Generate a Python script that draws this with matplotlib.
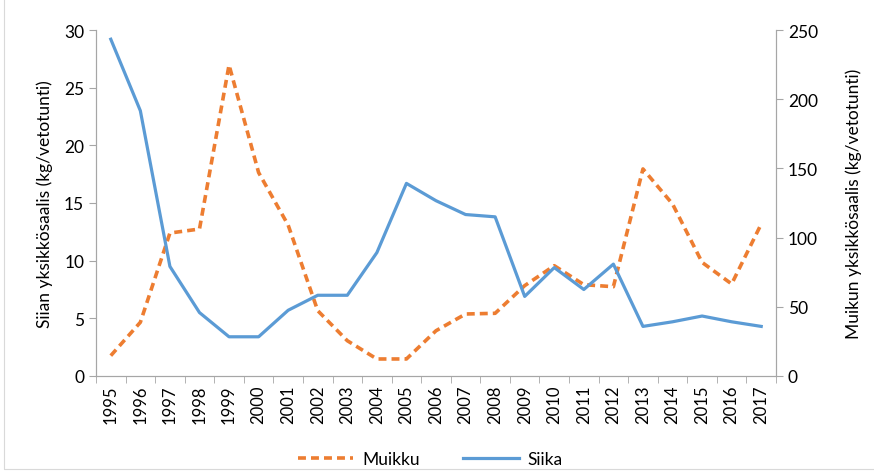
import matplotlib.pyplot as plt
from matplotlib.lines import Line2D
from matplotlib.patches import Rectangle
import numpy as np

years = list(range(1995, 2018))
siika = [29.2, 23.0, 9.5, 5.5, 3.4, 3.4, 5.7, 7.0, 7.0, 10.7, 16.7, 15.2, 14.0,
         13.8, 6.9, 9.4, 7.5, 9.7, 4.3, 4.7, 5.2, 4.7, 4.3]
muikku = [14.7, 38.8, 103.3, 106.2, 224.7, 147.0, 109.0, 47.2, 25.5, 12.3, 12.3,
          32.7, 44.8, 45.3, 65.3, 79.7, 66.0, 64.5, 149.6, 124.3, 82.1, 66.5, 109.8]

plt.rcParams['font.family'] = ['Lato', 'DejaVu Sans']
blue = '#5B9BD5'
orange = '#ED7D31'
grey = '#A6A6A6'

fig = plt.figure(figsize=(8.74, 4.77), dpi=100)
ax = fig.add_axes([96/874, 100/477, 680/874, 346/477])
ax2 = ax.twinx()

x = np.arange(len(years))
ax2.plot(x, muikku, color=orange, lw=2.6, dashes=(2.2, 1.4), zorder=2)
ax.plot(x, siika, color=blue, lw=2.3, zorder=3)
ax.set_zorder(ax2.get_zorder() + 1)
ax.patch.set_visible(False)

ax.set_xlim(-0.5, len(years) - 0.5)
ax.set_ylim(0, 30)
ax2.set_ylim(0, 250)
ax.set_yticks(np.arange(0, 31, 5))
ax2.set_yticks(np.arange(0, 251, 50))
ax.set_xticks(x)
ax.set_xticklabels([str(y) for y in years], rotation=90)
ax.set_xticks(np.arange(-0.5, len(years), 1), minor=True)
ax.tick_params(axis='x', which='major', length=0, pad=6)
ax.tick_params(axis='x', which='minor', length=5, color=grey)

for a in (ax, ax2):
    a.spines['top'].set_visible(False)
    for s in ('left', 'right', 'bottom'):
        a.spines[s].set_color(grey)
    a.tick_params(axis='y', length=5, color=grey, labelsize=12.5, labelcolor='black')
ax.tick_params(axis='x', labelsize=12, labelcolor='black')

ax.set_ylabel('Siian yksikkösaalis (kg/vetotunti)', fontsize=12.5, labelpad=8)
ax2.set_ylabel('Muikun yksikkösaalis (kg/vetotunti)', fontsize=12.5, labelpad=20)

handles = [Line2D([], [], color=orange, lw=2.6, dashes=(2.2, 1.4)),
           Line2D([], [], color=blue, lw=2.3)]
fig.legend(handles, ['Muikku', 'Siika'], loc='center', bbox_to_anchor=(430/874, 1 - 460/477),
           ncol=2, frameon=False, fontsize=12.5, handlelength=3.2, columnspacing=2.5,
           handletextpad=0.5)

fig.patches.append(Rectangle((4/874, 7/477), 1.0, 1.0, transform=fig.transFigure,
                             fill=False, edgecolor='#D9D9D9', lw=0.8))

fig.savefig('out.png', dpi=100)
